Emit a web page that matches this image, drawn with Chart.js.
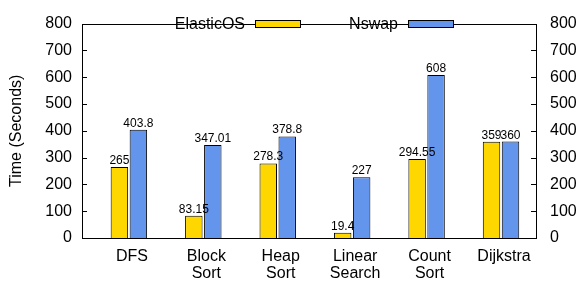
<!DOCTYPE html>
<html>
<head>
<meta charset="utf-8">
<script src="https://cdn.jsdelivr.net/npm/chart.js@4.4.1/dist/chart.umd.min.js"></script>
<style>
  html, body { margin: 0; padding: 0; background: #fff; }
</style>
</head>
<body>
<canvas id="myChart" width="578" height="282"></canvas>
<script>
// data
var categories = [['DFS'], ['Block', 'Sort'], ['Heap', 'Sort'], ['Linear', 'Search'], ['Count', 'Sort'], ['Dijkstra']];
var seriesNames = ['ElasticOS', 'Nswap'];
var elasticOS = [265, 83.15, 278.3, 19.4, 294.55, 359];
var nswap = [403.8, 347.01, 378.8, 227, 608, 360];
var yTicks = [0, 100, 200, 300, 400, 500, 600, 700, 800];

var FONT = "'Liberation Sans', Arial, Helvetica, sans-serif";
Chart.defaults.font.family = FONT;
Chart.defaults.color = '#000';

function toPoints(arr) {
  return arr.map(function (v, i) { return { x: i, y: v }; });
}

// frame + inward ticks like gnuplot
var framePlugin = {
  id: 'frame',
  afterDraw: function (chart) {
    var ctx = chart.ctx, a = chart.chartArea, y = chart.scales.y;
    ctx.save();
    ctx.strokeStyle = '#000';
    ctx.lineWidth = 1;
    ctx.strokeRect(Math.round(a.left) + 0.5, Math.round(a.top) + 0.5,
      Math.round(a.right - a.left), Math.round(a.bottom - a.top));
    ctx.beginPath();
    yTicks.forEach(function (t) {
      var py = Math.round(y.getPixelForValue(t)) + 0.5;
      ctx.moveTo(a.left, py); ctx.lineTo(a.left + 5, py);
      ctx.moveTo(a.right, py); ctx.lineTo(a.right - 5, py);
    });
    ctx.stroke();
    ctx.restore();
  }
};

// value labels on top of the bars
var valueLabels = {
  id: 'valueLabels',
  afterDatasetsDraw: function (chart) {
    var ctx = chart.ctx;
    ctx.save();
    ctx.font = '12px ' + FONT;
    ctx.fillStyle = '#000';
    ctx.textAlign = 'center';
    ctx.textBaseline = 'alphabetic';
    chart.data.datasets.forEach(function (ds, di) {
      chart.getDatasetMeta(di).data.forEach(function (bar, i) {
        ctx.fillText(String(ds.data[i].y), bar.x, bar.y - 3);
      });
    });
    ctx.restore();
  }
};

// gnuplot style key: text then sample box
var keyPlugin = {
  id: 'key',
  afterDraw: function (chart) {
    var ctx = chart.ctx, a = chart.chartArea;
    ctx.save();
    ctx.font = '16px ' + FONT;
    ctx.textBaseline = 'middle';
    ctx.textAlign = 'right';
    chart.data.datasets.forEach(function (ds, i) {
      var tx = a.left + 163 + i * 153;
      ctx.fillStyle = '#000';
      ctx.fillText(ds.label, tx, 25);
      ctx.fillStyle = ds.backgroundColor;
      ctx.fillRect(tx + 10, 20.5, 45, 7);
      ctx.strokeStyle = '#000';
      ctx.lineWidth = 1;
      ctx.strokeRect(tx + 10.5, 20.5, 45, 7);
    });
    ctx.restore();
  }
};

var ctx = document.getElementById('myChart').getContext('2d');
var myChart = new Chart(ctx, {
  type: 'bar',
  data: {
    datasets: [{
      label: seriesNames[0],
      data: toPoints(elasticOS),
      backgroundColor: '#FFD700',
      borderColor: '#000',
      borderWidth: 1
    }, {
      label: seriesNames[1],
      data: toPoints(nswap),
      backgroundColor: '#6495ED',
      borderColor: '#000',
      borderWidth: 1
    }]
  },
  options: {
    responsive: false,
    animation: false,
    layout: { padding: { top: 11, left: 0, right: 0, bottom: 0 } },
    datasets: {
      bar: { categoryPercentage: 0.51, barPercentage: 0.92 }
    },
    plugins: {
      legend: { display: false },
      tooltip: { enabled: false }
    },
    scales: {
      x: {
        type: 'linear',
        min: -0.63,
        max: 5.47,
        offset: false,
        grid: { display: false, drawTicks: false, offset: false },
        border: { display: false },
        afterBuildTicks: function (scale) {
          scale.ticks = categories.map(function (c, i) { return { value: i }; });
        },
        afterFit: function (scale) { scale.height = 44; },
        ticks: {
          autoSkip: false,
          maxRotation: 0,
          padding: 10,
          labelOffset: 3,
          font: { size: 16, lineHeight: 1.05 },
          callback: function (v) { return categories[v]; }
        }
      },
      y: {
        position: 'left',
        min: 0,
        max: 800,
        grid: { display: false, drawTicks: false },
        border: { display: false },
        afterFit: function (scale) { scale.width = 82; },
        ticks: { stepSize: 100, padding: 10, font: { size: 16 } },
        title: {
          display: true,
          text: 'Time (Seconds)',
          font: { size: 16 },
          padding: { top: 7, bottom: 0 }
        }
      },
      y2: {
        position: 'right',
        min: 0,
        max: 800,
        grid: { display: false, drawTicks: false },
        border: { display: false },
        afterFit: function (scale) { scale.width = 42; },
        ticks: { stepSize: 100, padding: 14, font: { size: 16 } }
      }
    }
  },
  plugins: [framePlugin, valueLabels, keyPlugin]
});
</script>
</body>
</html>
